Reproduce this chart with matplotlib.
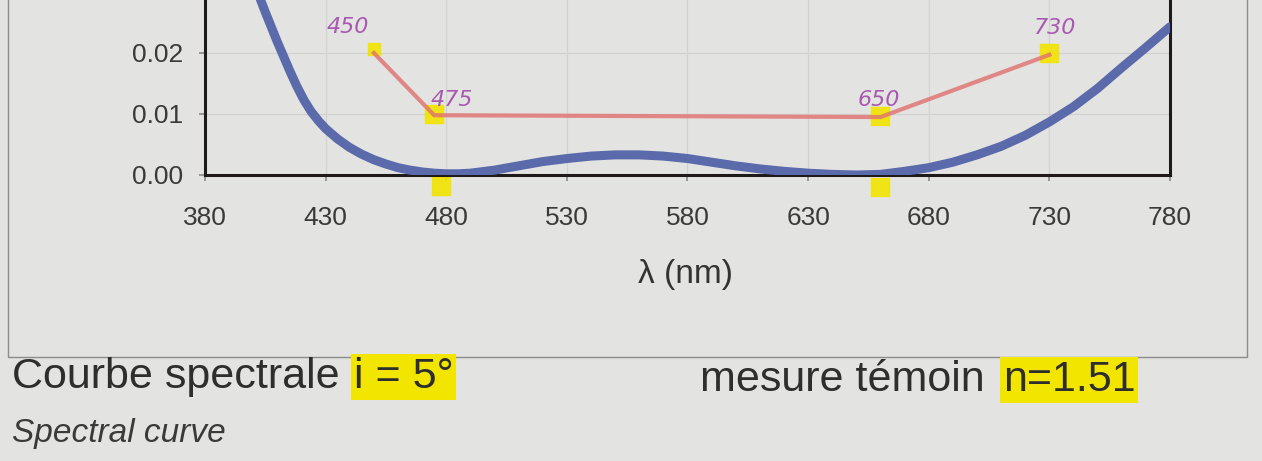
import numpy as np
import matplotlib.pyplot as plt
from matplotlib.patches import Rectangle

# spectral reflectance curve (blue)
wl = [395, 400, 405, 410, 415, 418, 421, 424, 427, 430, 435, 440, 445, 450, 455, 460, 465, 470,
      475, 480, 485, 490, 500, 510, 520, 530, 540, 550, 560, 570, 580, 590, 600, 610, 620, 630,
      640, 650, 660, 670, 680, 690, 700, 710, 720, 730, 740, 750, 760, 770, 780]
refl = [0.0370, 0.0318, 0.0267, 0.0218, 0.0172, 0.0146, 0.0123, 0.0104, 0.0089, 0.0076, 0.0059,
        0.0045, 0.0034, 0.0025, 0.0018, 0.0012, 0.0008, 0.0005,
        0.0003, 0.0002, 0.0002, 0.0003, 0.0008, 0.0015, 0.0022, 0.0027, 0.0031, 0.0033, 0.0033,
        0.0031, 0.0027, 0.0021, 0.0015, 0.0010, 0.0006, 0.0003,
        0.0001, 0.0000, 0.0001, 0.0006, 0.0012, 0.0021, 0.0033, 0.0047, 0.0065, 0.0087, 0.0112,
        0.0142, 0.0176, 0.0209, 0.0243]

# hand drawn tolerance line (red) and its labels
red_wl = [450, 475, 660, 730]
red_r = [0.0200, 0.0098, 0.0095, 0.0197]
red_lab = ['450', '475', '650', '730']
lab_off = [(-26, 26), (18, 15), (-2, 17), (6, 27)]

# yellow highlight marks
mk_wl = [475, 660, 730, 478, 660]
mk_r = [0.0100, 0.0097, 0.0200, -0.0018, -0.0020]

xticks = [380, 430, 480, 530, 580, 630, 680, 730, 780]
yticks = [0.00, 0.01, 0.02]

bg = '#e3e3e1'
W, H = 1262, 461
fig = plt.figure(figsize=(W / 100, H / 100), dpi=100, facecolor=bg)

# outer chart frame
fig.patches.append(Rectangle((8 / W, 1 - 357 / H), 1239 / W, 0.8, transform=fig.transFigure,
                             fill=False, edgecolor='#8c8c8c', lw=1.0))

ax = fig.add_axes([205 / W, 1 - 175 / H, 965 / W, 183 / H])
ax.set_facecolor(bg)
ax.set_xlim(380, 780)
ax.set_ylim(0, 0.03)
ax.set_xticks(xticks)
ax.set_yticks(yticks)
ax.set_yticklabels(['%.2f' % v for v in yticks])
ax.grid(True, color='#d2d2d0', lw=0.9)
ax.set_axisbelow(True)
for s in ['left', 'bottom', 'right']:
    ax.spines[s].set_color('#1e1a1a')
    ax.spines[s].set_linewidth(2.2)
ax.spines['top'].set_visible(False)
ax.tick_params(axis='both', colors='#8a8a8a', length=4, width=1.2, labelcolor='#3a3a3a',
               labelsize=19)
ax.tick_params(axis='x', pad=18)
ax.tick_params(axis='y', pad=12)
for t in ax.get_xticklabels() + ax.get_yticklabels():
    t.set_family('Liberation Sans')

ax.plot(mk_wl, mk_r, 's', color='#f2e300', ms=13, alpha=0.9, clip_on=False, zorder=2)
ax.plot([450], [0.0207], 's', color='#f2e300', ms=8, alpha=0.9, clip_on=False, zorder=2)
ax.plot(red_wl, red_r, color='#e07070', lw=3, alpha=0.8, zorder=3)
ax.plot(wl, refl, color='#5a6aab', lw=6.5, solid_capstyle='round', solid_joinstyle='round',
        zorder=4, clip_on=True)

for x, y, s, o in zip(red_wl, red_r, red_lab, lab_off):
    ax.annotate(s, (x, y), xytext=o, textcoords='offset pixels', ha='center', va='center',
                color='#a858b0', fontsize=16, style='italic', family='DejaVu Sans')

fig.text(685 / W, 1 - 274 / H, 'λ (nm)', ha='center', va='center', fontsize=24,
         family='Liberation Sans', color='#333333')

fs = 31
fig.text(12 / W, 1 - 377 / H, 'Courbe spectrale', ha='left', va='center', fontsize=fs,
         family='Liberation Sans', color='#2e2e2e')
fig.text(354 / W, 1 - 377 / H, 'i = 5°', ha='left', va='center', fontsize=fs,
         family='Liberation Sans', color='#2e2e2e',
         bbox=dict(boxstyle='square,pad=0.06', fc='#f2e600', ec='none'))
fig.text(700 / W, 1 - 380 / H, 'mesure témoin', ha='left', va='center', fontsize=fs,
         family='Liberation Sans', color='#2e2e2e')
fig.text(1003 / W, 1 - 380 / H, 'n=1.51', ha='left', va='center', fontsize=fs,
         family='Liberation Sans', color='#2e2e2e',
         bbox=dict(boxstyle='square,pad=0.06', fc='#f2e600', ec='none'))
fig.text(12 / W, 1 - 433 / H, 'Spectral curve', ha='left', va='center', fontsize=24,
         family='Liberation Sans', style='italic', color='#3a3a3a')

fig.savefig('out.png', dpi=100, facecolor=bg)
